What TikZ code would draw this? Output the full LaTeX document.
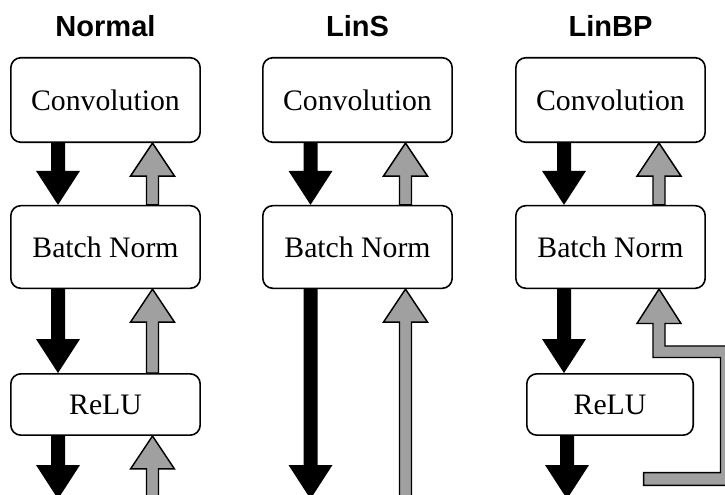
\documentclass[tikz,border=0pt]{standalone}
\usepackage{fontspec}
\setmainfont{Liberation Serif}
\newfontfamily\titlefont{Liberation Sans}
\usetikzlibrary{calc,backgrounds}
\definecolor{arrgray}{RGB}{160,160,160}
\tikzset{
  layer/.style={draw=black, line width=1.2pt, rounded corners=7.5pt, fill=white,
    inner sep=0pt, font=\fontsize{22.3}{26}\selectfont},
  title/.style={inner sep=0pt, font=\titlefont\bfseries\fontsize{21.8}{25}\selectfont},
  fwd/.style={to path={let \p1=(\tikztostart), \p2=(\tikztotarget) in
    (\x1-5.25pt,\y1) -- (\x1-5.25pt,\y2+25.5pt) -- (\x1-16.5pt,\y2+25.5pt) -- (\x1,\y2)
    -- (\x1+16.5pt,\y2+25.5pt) -- (\x1+5.25pt,\y2+25.5pt) -- (\x1+5.25pt,\y1) -- cycle}},
  fwdstyle/.style={fill=black},
  bwd/.style={to path={let \p1=(\tikztostart), \p2=(\tikztotarget) in
    (\x1-4.5pt,\y1) -- (\x1-4.5pt,\y2-24.75pt) -- (\x1-16.5pt,\y2-24.75pt) -- (\x1,\y2)
    -- (\x1+16.5pt,\y2-24.75pt) -- (\x1+4.5pt,\y2-24.75pt) -- (\x1+4.5pt,\y1) -- cycle}},
  bwdstyle/.style={fill=arrgray, draw=black, line width=1.1pt, line join=miter},
}
\begin{document}
\begin{tikzpicture}[x=0.75pt, y=-0.75pt]
\useasboundingbox (0,0) rectangle (725,495);
% titles
\node[title] (t1) at (105.5,26) {Normal};
\node[title] (t2) at (357.5,26) {LinS};
\node[title] (t3) at (610.5,26) {LinBP};
% Normal
\node[layer, minimum width=142pt, minimum height=63.4pt] (conv1) at (105.5,100) {Convolution};
\node[layer, minimum width=142pt, minimum height=62pt] (bn1) at (105.5,247) {Batch Norm};
\node[layer, minimum width=142pt, minimum height=46pt] (relu1) at (105.5,404.5) {ReLU};
% LinS
\node[layer, minimum width=142pt, minimum height=63.4pt] (conv2) at (357.5,100) {Convolution};
\node[layer, minimum width=142pt, minimum height=62pt] (bn2) at (357.5,247) {Batch Norm};
% LinBP
\node[layer, minimum width=142pt, minimum height=63.4pt] (conv3) at (610.5,100) {Convolution};
\node[layer, minimum width=142pt, minimum height=62pt] (bn3) at (610.5,247) {Batch Norm};
\node[layer, minimum width=124.8pt, minimum height=46pt] (relu3) at (610,404.5) {ReLU};
% off-page ends
\coordinate (o1f) at (58,499);
\coordinate (o1b) at (152.5,510);
\coordinate (o2f) at (310.5,499);
\coordinate (o2b) at (405.5,510);
\coordinate (o3f) at (567,499);
\begin{scope}[on background layer]
\clip (0,0) rectangle (725,495);
% Normal
\path[fwdstyle] ($(conv1.south)+(-47.5,0)$) to[fwd] ($(bn1.north)+(-47.5,0)$);
\path[bwdstyle] ($(bn1.north)+(47,0)$) to[bwd] ($(conv1.south)+(47,0)$);
\path[fwdstyle] ($(bn1.south)+(-47.5,0)$) to[fwd] ($(relu1.north)+(-47.5,0)$);
\path[bwdstyle] ($(relu1.north)+(47,0)$) to[bwd] ($(bn1.south)+(47,0)$);
\path[fwdstyle] ($(relu1.south)+(-47.5,0)$) to[fwd] (o1f);
\path[bwdstyle] (o1b) to[bwd] ($(relu1.south)+(47,0)$);
% LinS
\path[fwdstyle] ($(conv2.south)+(-47,0)$) to[fwd] ($(bn2.north)+(-47,0)$);
\path[bwdstyle] ($(bn2.north)+(48,0)$) to[bwd] ($(conv2.south)+(48,0)$);
\path[fwdstyle] ($(bn2.south)+(-47,0)$) to[fwd] (o2f);
\path[bwdstyle] (o2b) to[bwd] ($(bn2.south)+(48,0)$);
% LinBP
\path[fwdstyle] ($(conv3.south)+(-46.5,0)$) to[fwd] ($(bn3.north)+(-46.5,0)$);
\path[bwdstyle] ($(bn3.north)+(48.5,0)$) to[bwd] ($(conv3.south)+(48.5,0)$);
\path[fwdstyle] ($(bn3.south)+(-46.5,0)$) to[fwd] ($(relu3.north)+(-46,0)$);
\path[fwdstyle] ($(relu3.south)+(-43,0)$) to[fwd] (o3f);
\coordinate (skip) at ($(bn3.south)+(48.5,0)$);
\path[bwdstyle] (skip) -- (681,323.5) -- (665,323.5) -- (665,346) -- (734,346)
  -- (734,485.3) -- (643.7,485.3) -- (643.7,472.7) -- (720.5,472.7) -- (720.5,357.5)
  -- (653,357.5) -- (653,323.5) -- (637,323.5) -- cycle;
\end{scope}
\end{tikzpicture}
\end{document}
